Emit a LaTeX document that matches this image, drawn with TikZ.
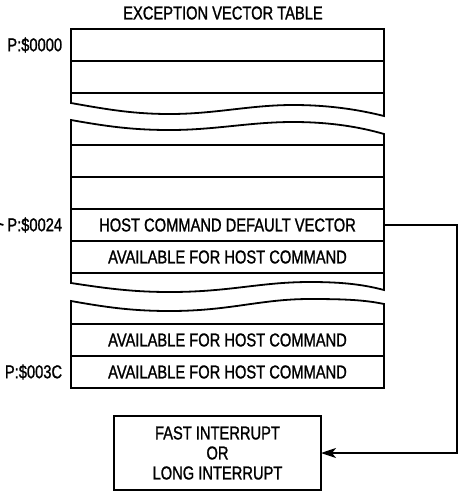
\documentclass[tikz,border=0pt]{standalone}
\usepackage{fontspec}
\setmainfont{Liberation Sans}[FakeStretch=0.79, FakeBold=1.2]
\usetikzlibrary{arrows.meta,positioning}

\begin{document}
\begin{tikzpicture}[
  x=1pt, y=-1pt,
  line width=1.8pt,
  node distance = 0pt and 8pt,
  every node/.style = {font=\fontsize{18.6}{20}\selectfont},
  row/.style = {rectangle, draw, minimum width=313pt, minimum height=32pt,
    inner sep=0pt, outer sep=0pt},
  box/.style = {rectangle, draw, minimum width=207pt, minimum height=74pt,
    align=center, inner sep=0pt, outer sep=0pt},
  addr/.style = {inner sep=0pt},
  arr/.style = {-{Stealth[length=15pt, width=10pt, inset=4pt]}}
]
\useasboundingbox (0,0) rectangle (459,491);

\node (title) at (223,13) {EXCEPTION VECTOR TABLE};

% upper part of the table
\node[row, anchor=north west] (rA) at (71,29) {};
\node[row, below=of rA]       (rB) {};
% broken row under rB
\draw (rB.south west) -- (71,103)
  .. controls (110,110) and (135,114) .. (170,114)
  .. controls (215,114) and (250,105) .. (293,105)
  .. controls (330,105) and (360,110) .. (384,116) -- (rB.south east);
\coordinate (rEtop) at (71,145);
\draw (rEtop) -- (71,120)
  .. controls (110,127) and (135,130) .. (170,130)
  .. controls (215,130) and (250,122) .. (293,122)
  .. controls (330,122) and (360,127) .. (384,134) -- (384,145);

% middle part
\node[row, anchor=north west] (rE) at (rEtop) {};
\node[row, below=of rE]       (rF) {};
\node[row, below=of rF]       (rG) {HOST COMMAND DEFAULT VECTOR};
\node[row, below=of rG]       (rH) {AVAILABLE FOR HOST COMMAND};
% broken row under rH
\draw (rH.south west) -- (71,283)
  .. controls (110,289) and (135,292) .. (170,292)
  .. controls (230,292) and (260,282) .. (310,282)
  .. controls (345,282) and (365,285) .. (384,290) -- (rH.south east);
\coordinate (rKtop) at (71,324);
\draw (rKtop) -- (71,301)
  .. controls (110,308) and (135,311) .. (170,311)
  .. controls (230,311) and (260,299) .. (310,299)
  .. controls (345,299) and (365,300) .. (384,304) -- (384,324);

% lower part
\node[row, anchor=north west] (rK) at (rKtop) {AVAILABLE FOR HOST COMMAND};
\node[row, below=of rK]       (rL) {AVAILABLE FOR HOST COMMAND};

% addresses
\node[addr, left=of rA] (pA) {P:\$0000};
\node[addr, left=of rG] (pG) {P:\$0024};
\node[addr, left=of rL] (pL) {P:\$003C};
\coordinate (ptr) at (0,224);
\draw (ptr) -- ([xshift=-3pt]pG.west);

% interrupt routine
\node[box] (isr) at (217.5,453) {FAST INTERRUPT\\OR\\LONG INTERRUPT};
\draw[arr] (rG.east) -- ++(73,0) |- (isr.east);
\end{tikzpicture}
\end{document}
